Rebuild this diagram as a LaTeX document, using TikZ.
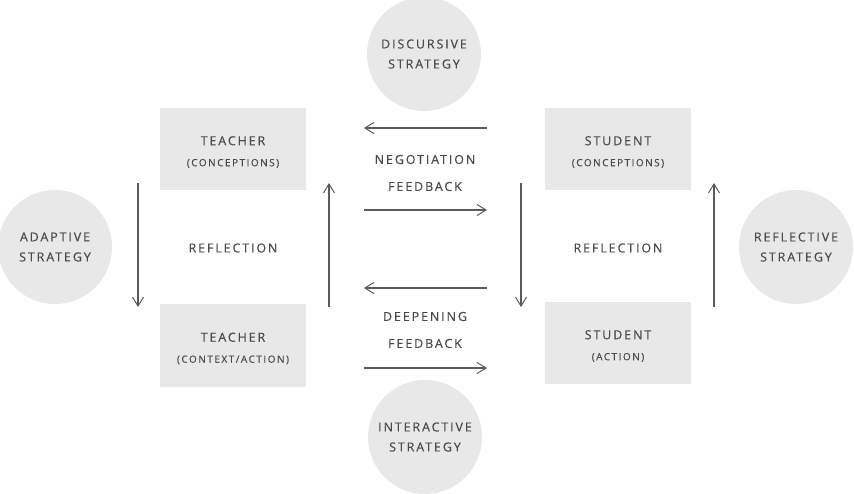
\documentclass[tikz,border=0pt]{standalone}
\usepackage{fontspec}
\setmainfont{Open Sans}[LetterSpace=15,FakeBold=0.3]
\usetikzlibrary{arrows.meta}
\definecolor{fillg}{HTML}{E8E8E8}
\definecolor{txtg}{HTML}{4A4A4A}
\definecolor{lineg}{HTML}{5A5A5A}
\newcommand{\subtxt}{\fontsize{10}{12}\selectfont}
\begin{document}
\begin{tikzpicture}[x=1pt,y=-1pt,
  boxnode/.style={fill=fillg,minimum width=146pt,minimum height=82pt,inner sep=0pt,text=txtg,align=center,font=\fontsize{12.5}{21}\selectfont},
  circnode/.style={circle,fill=fillg,minimum size=114pt,inner sep=0pt,text=txtg,align=center,font=\fontsize{12.5}{20}\selectfont},
  lbl/.style={text=txtg,align=center,font=\fontsize{12.5}{27}\selectfont},
  arr/.style={draw=lineg,line width=1.1pt,-{Straight Barb[length=9pt,width=11pt,line width=1pt]}}]
\useasboundingbox (0,0) rectangle (854,493);
% boxes (centres), text nudged a little lower as in the reference
\node[boxnode] (tc) at (233,149) {};
\node[boxnode,minimum height=83pt] (ta) at (233,345.5) {};
\node[boxnode] (sc) at (618,149) {};
\node[boxnode] (sa) at (618,343) {};
\node[text=txtg,align=center,font=\fontsize{12.5}{21}\selectfont] (tct) at ([yshift=-3pt]tc.center) {TEACHER\\{\subtxt (CONCEPTIONS)}};
\node[text=txtg,align=center,font=\fontsize{12.5}{21}\selectfont] (tat) at ([yshift=-3pt]ta.center) {TEACHER\\{\subtxt (CONTEXT/ACTION)}};
\node[text=txtg,align=center,font=\fontsize{12.5}{21}\selectfont] (sct) at ([yshift=-3pt]sc.center) {STUDENT\\{\subtxt (CONCEPTIONS)}};
\node[text=txtg,align=center,font=\fontsize{12.5}{21}\selectfont] (sat) at ([yshift=-3pt]sa.center) {STUDENT\\{\subtxt (ACTION)}};
% circles
\node[circnode] (disc) at (424,54) {DISCURSIVE\\STRATEGY};
\node[circnode] (adap) at (55,247) {ADAPTIVE\\STRATEGY};
\node[circnode] (inter) at (425,437) {INTERACTIVE\\STRATEGY};
\node[circnode] (refl) at (796,247) {REFLECTIVE\\STRATEGY};
% labels
\node[lbl] (neg) at (425,173) {NEGOTIATION\\FEEDBACK};
\node[lbl] (deep) at (425,330) {DEEPENING\\FEEDBACK};
\node[lbl] (r1) at (233,248) {REFLECTION};
\node[lbl] (r2) at (618,248) {REFLECTION};
% arrow coordinates
\coordinate (a1s) at (138,183); \coordinate (a1e) at (138,307);
\coordinate (a2s) at (329,307); \coordinate (a2e) at (329,183);
\coordinate (a3s) at (521,183); \coordinate (a3e) at (521,307);
\coordinate (a4s) at (714,307); \coordinate (a4e) at (714,183);
\coordinate (h1s) at (487,128); \coordinate (h1e) at (364,128);
\coordinate (h2s) at (364,210); \coordinate (h2e) at (487,210);
\coordinate (h3s) at (487,288); \coordinate (h3e) at (364,288);
\coordinate (h4s) at (364,368); \coordinate (h4e) at (487,368);
\draw[arr] (a1s) -- (a1e);
\draw[arr] (a2s) -- (a2e);
\draw[arr] (a3s) -- (a3e);
\draw[arr] (a4s) -- (a4e);
\draw[arr] (h1s) -- (h1e);
\draw[arr] (h2s) -- (h2e);
\draw[arr] (h3s) -- (h3e);
\draw[arr] (h4s) -- (h4e);
\end{tikzpicture}
\end{document}
